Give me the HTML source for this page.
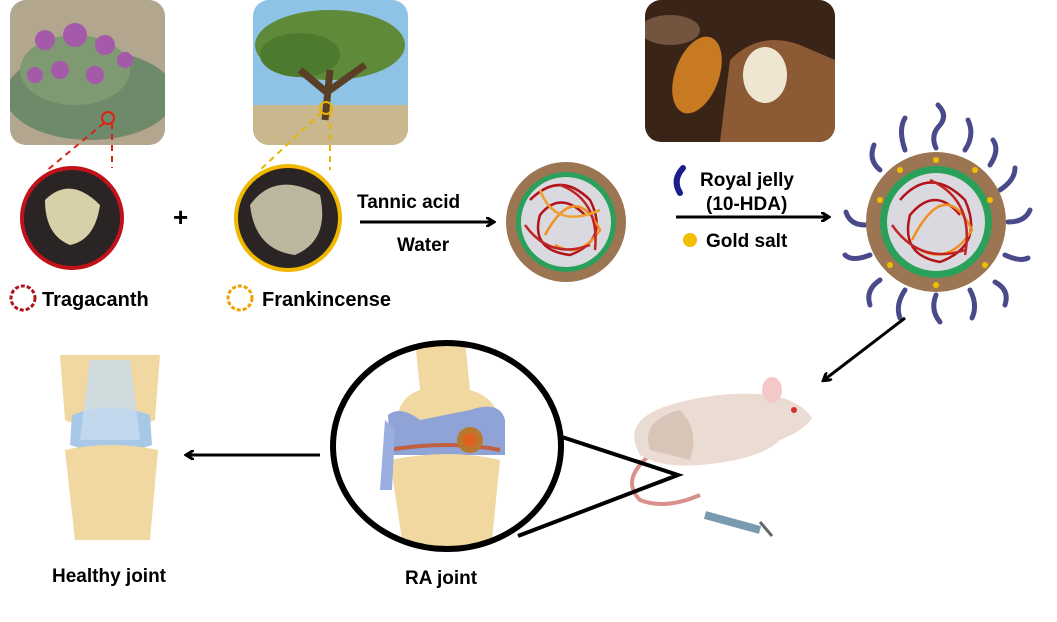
<!DOCTYPE html>
<html><head><meta charset="utf-8"><style>
html,body{margin:0;padding:0;background:#fff;}
svg{display:block;}
text{font-family:"Liberation Sans",Arial,sans-serif;font-weight:bold;fill:#000;}
</style></head><body>
<svg width="1057" height="622" viewBox="0 0 1057 622" xmlns="http://www.w3.org/2000/svg">
<defs>
<marker id="ah" markerWidth="10" markerHeight="10" refX="7" refY="5" orient="auto" markerUnits="userSpaceOnUse"><path d="M0,0 L8,5 L0,10" fill="none" stroke="#000" stroke-width="3"/></marker>
<clipPath id="c1"><rect x="10" y="0" width="155" height="145" rx="16"/></clipPath>
<clipPath id="c2"><rect x="253" y="0" width="155" height="145" rx="16"/></clipPath>
<clipPath id="c3"><rect x="645" y="0" width="190" height="142" rx="16"/></clipPath>
<clipPath id="ce"><ellipse cx="447" cy="446" rx="112" ry="101"/></clipPath>
</defs>
<!-- photo 1 -->
<g clip-path="url(#c1)">
<rect x="10" y="0" width="155" height="145" fill="#b3a68f"/>
<ellipse cx="90" cy="95" rx="85" ry="45" fill="#6f8a6a"/>
<ellipse cx="75" cy="70" rx="55" ry="35" fill="#7f9a72"/>
<g fill="#a45aa8"><circle cx="45" cy="40" r="10"/><circle cx="75" cy="35" r="12"/><circle cx="105" cy="45" r="10"/><circle cx="60" cy="70" r="9"/><circle cx="95" cy="75" r="9"/><circle cx="125" cy="60" r="8"/><circle cx="35" cy="75" r="8"/></g>
</g>
<circle cx="108" cy="118" r="6" fill="none" stroke="#d21" stroke-width="2"/>
<!-- photo 2 -->
<g clip-path="url(#c2)">
<rect x="253" y="0" width="155" height="145" fill="#8ec3e6"/>
<rect x="253" y="105" width="155" height="40" fill="#c9b78e"/>
<ellipse cx="330" cy="45" rx="75" ry="35" fill="#5e8a3a"/>
<ellipse cx="300" cy="55" rx="40" ry="22" fill="#4d7a2e"/>
<path d="M325 120 L330 70 M330 95 L300 70 M330 90 L365 65" stroke="#5a3e26" stroke-width="7" fill="none"/>
</g>
<circle cx="326" cy="108" r="6" fill="none" stroke="#e8b400" stroke-width="2"/>
<!-- photo 3 -->
<g clip-path="url(#c3)">
<rect x="645" y="0" width="190" height="142" fill="#3a2418"/>
<path d="M720 142 L730 60 Q760 30 800 45 L835 60 L835 142Z" fill="#8c5a34"/>
<ellipse cx="765" cy="75" rx="22" ry="28" fill="#efe6d2"/>
<ellipse cx="697" cy="75" rx="22" ry="40" fill="#c77a22" transform="rotate(20 697 75)"/>
<ellipse cx="670" cy="30" rx="30" ry="15" fill="#8b6a4e" opacity=".7"/>
</g>
<!-- dashed lines -->
<g stroke-dasharray="6,5" stroke-width="2" fill="none">
<path d="M104 123 L45 172 M112 123 L112 168" stroke="#d21"/>
<path d="M322 112 L260 170 M330 112 L330 170" stroke="#e8b400"/>
</g>
<!-- resin circles -->
<circle cx="72" cy="218" r="50" fill="#2a2424" stroke="#c1121a" stroke-width="4"/>
<path d="M45 200 Q70 175 100 205 Q95 240 70 245 Q45 235 45 200Z" fill="#d8d0a8"/>
<circle cx="288" cy="218" r="52" fill="#2a2424" stroke="#f0b800" stroke-width="4"/>
<path d="M250 205 Q275 170 320 195 Q330 240 295 255 Q255 250 250 205Z" fill="#bdb7a0"/>
<text x="173" y="226" font-size="26">+</text>
<!-- legend -->
<circle cx="23" cy="298" r="12" fill="none" stroke="#b0121a" stroke-width="3" stroke-dasharray="4,2"/>
<text x="42" y="306" font-size="20">Tragacanth</text>
<circle cx="240" cy="298" r="12" fill="none" stroke="#f0a000" stroke-width="3" stroke-dasharray="4,2"/>
<text x="262" y="306" font-size="20">Frankincense</text>
<!-- arrow 1 -->
<line x1="360" y1="222" x2="493" y2="222" stroke="#000" stroke-width="3" marker-end="url(#ah)"/>
<text x="357" y="208" font-size="19">Tannic acid</text>
<text x="397" y="251" font-size="19">Water</text>
<!-- particle 1 -->
<circle cx="566" cy="222" r="60" fill="#9c7552"/>
<circle cx="566" cy="222" r="50" fill="#2aa05a"/>
<circle cx="566" cy="222" r="45" fill="#d9d9df"/>
<g fill="none" stroke-width="2.5">
<path d="M530 200 Q560 170 590 200 Q610 240 570 255 Q530 250 540 215 Q560 190 585 215" stroke="#b2121a"/>
<path d="M545 235 Q575 180 600 230 Q580 260 555 245" stroke="#f09020"/>
<path d="M525 225 Q550 260 590 245 M560 185 Q600 200 595 250" stroke="#c02525"/>
<path d="M540 190 Q555 230 600 210" stroke="#f0a030"/>
</g>
<!-- arrow 2 -->
<line x1="676" y1="217" x2="828" y2="217" stroke="#000" stroke-width="3" marker-end="url(#ah)"/>
<path d="M683 168 Q672 180 680 193" stroke="#1c1c8c" stroke-width="6" fill="none" stroke-linecap="round"/>
<text x="700" y="186" font-size="19">Royal jelly</text>
<text x="706" y="210" font-size="19">(10-HDA)</text>
<circle cx="690" cy="240" r="7" fill="#f0c000"/>
<text x="706" y="247" font-size="19">Gold salt</text>
<!-- particle 2 -->
<g fill="none" stroke="#4a4a8a" stroke-width="5" stroke-linecap="round">
<path d="M936 148 Q930 135 940 125 Q948 115 938 105"/>
<path d="M880 170 Q868 160 874 145"/><path d="M990 165 Q1000 150 993 140"/>
<path d="M865 225 Q850 225 846 212"/><path d="M1008 222 Q1025 222 1030 210"/>
<path d="M880 280 Q865 290 870 305"/><path d="M995 282 Q1010 290 1005 305"/>
<path d="M936 295 Q930 310 940 322"/><path d="M905 290 Q895 305 900 318"/><path d="M970 290 Q978 305 972 318"/>
<path d="M905 150 Q898 130 905 118"/><path d="M965 150 Q975 135 968 120"/>
<path d="M870 255 Q852 262 845 255"/><path d="M1005 255 Q1020 262 1028 258"/>
<path d="M1000 190 Q1015 180 1015 168"/>
</g>
<circle cx="936" cy="222" r="70" fill="#9c7552"/>
<circle cx="936" cy="222" r="56" fill="#2aa05a"/>
<circle cx="936" cy="222" r="49" fill="#d9d9df"/>
<g fill="none" stroke-width="2.5">
<path d="M900 200 Q930 165 965 200 Q985 245 940 262 Q900 255 910 215 Q935 185 960 215" stroke="#b2121a"/>
<path d="M912 240 Q945 175 972 230 Q950 265 920 250" stroke="#f09020"/>
<path d="M892 225 Q920 265 965 250 M930 180 Q975 200 965 255" stroke="#c02525"/>
</g>
<g fill="#f0c000"><circle cx="880" cy="200" r="3"/><circle cx="990" cy="200" r="3"/><circle cx="936" cy="160" r="3"/><circle cx="936" cy="285" r="3"/><circle cx="890" cy="265" r="3"/><circle cx="985" cy="265" r="3"/><circle cx="900" cy="170" r="3"/><circle cx="975" cy="170" r="3"/></g>
<!-- diag arrow -->
<line x1="905" y1="318" x2="824" y2="380" stroke="#000" stroke-width="3" marker-end="url(#ah)"/>
<!-- mouse -->
<path d="M650 455 Q620 480 640 500 Q665 510 700 495" stroke="#d9908a" stroke-width="4" fill="none"/>
<path d="M640 455 Q620 420 670 405 Q720 390 770 395 Q800 400 812 418 Q805 430 780 440 Q760 460 700 465 Q660 468 640 455Z" fill="#eadbd3"/>
<path d="M650 450 Q640 420 680 410 Q700 430 690 460Z" fill="#d9c4b8"/>
<ellipse cx="772" cy="390" rx="10" ry="13" fill="#f4c8c8"/>
<circle cx="794" cy="410" r="3" fill="#c33"/>
<path d="M705 515 L760 530" stroke="#7a9ab0" stroke-width="8"/>
<path d="M760 522 L772 536" stroke="#666" stroke-width="3"/>
<!-- triangle lines -->
<path d="M562 437 L678 475 L518 536" fill="none" stroke="#000" stroke-width="4"/>
<!-- RA joint ellipse -->
<ellipse cx="447" cy="446" rx="112" ry="101" fill="#fff"/>
<g clip-path="url(#ce)">
<path d="M415 340 L465 340 L470 390 Q505 400 500 440 L400 440 Q390 400 420 390Z" fill="#f0d8a0"/>
<path d="M388 415 Q400 405 420 420 L470 410 Q500 400 505 420 L505 455 L390 455Z" fill="#8fa3d6"/>
<path d="M388 450 Q450 440 500 450" stroke="#c06040" stroke-width="4" fill="none"/>
<path d="M390 460 Q450 448 500 460 L490 560 L405 560Z" fill="#f0d8a0"/>
<path d="M385 420 L380 490 L392 490 L395 430Z" fill="#9aaee0"/>
<circle cx="470" cy="440" r="13" fill="#b8782e"/>
<circle cx="470" cy="440" r="7" fill="#e06020"/>
</g>
<ellipse cx="447" cy="446" rx="114" ry="103" fill="none" stroke="#000" stroke-width="6"/>
<!-- left arrow -->
<line x1="320" y1="455" x2="187" y2="455" stroke="#000" stroke-width="3" marker-end="url(#ah)"/>
<!-- healthy joint -->
<path d="M60 355 L160 355 L155 420 Q110 440 65 420Z" fill="#f0d8a0"/>
<path d="M72 415 Q110 400 150 415 L152 445 Q110 460 70 445Z" fill="#a8c8e8"/>
<path d="M90 360 L130 360 L140 440 L80 440Z" fill="#c8dcee" opacity=".8"/>
<path d="M65 450 Q110 440 158 450 L150 540 L75 540Z" fill="#f0d8a0"/>
<text x="52" y="582" font-size="19">Healthy joint</text>
<text x="405" y="584" font-size="19">RA joint</text>
</svg>
</body></html>
